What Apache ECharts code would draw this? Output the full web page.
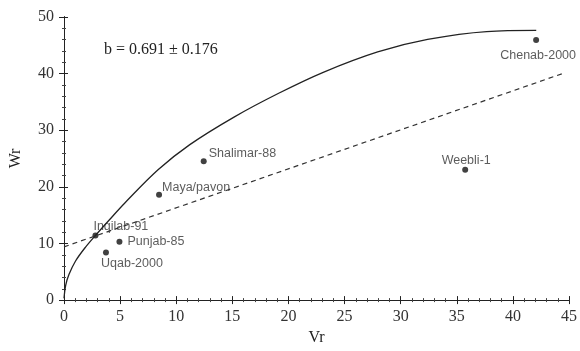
<!DOCTYPE html>
<html>
<head>
<meta charset="utf-8">
<script src="https://cdn.jsdelivr.net/npm/echarts@6/dist/echarts.min.js"></script>
<style>html,body{margin:0;padding:0;background:#fff}#c{width:580px;height:351px}</style>
</head>
<body>
<div id="c"></div>
<script>
// Cultivars (Vr, Wr)
var names = ['Inqilab-91','Uqab-2000','Punjab-85','Maya/pavon','Shalimar-88','Weebli-1','Chenab-2000'];
var vr = [2.8, 3.74, 4.94, 8.47, 12.45, 35.75, 42.07];
var wr = [11.4, 8.4, 10.3, 18.6, 24.5, 23.0, 45.9];
// Limiting parabola
var parabolaVr = [0, 0.15, 0.44, 1.03, 1.92, 2.8, 3.97, 5.4, 8.38, 11.18, 15.15, 19.13, 23.1, 27.95, 32.4, 37.66, 42.08];
var parabolaWr = [0.3, 2.6, 4.5, 6.9, 9.35, 11.4, 14.0, 17.1, 23.0, 27.4, 32.3, 36.5, 40.2, 43.8, 46.0, 47.4, 47.6];
// Regression line endpoints
var regVr = [0, 44.6];
var regWr = [9.4, 40.1];
var xTicks = [0,5,10,15,20,25,30,35,40,45];
var yTicks = [0,10,20,30,40,50];
var annotation = 'b = 0.691 \u00b1 0.176';

var labelCfg = {
  'Inqilab-91': {position:'right', offset:[-10,-9]},
  'Uqab-2000': {position:'bottom', offset:[26,-3]},
  'Punjab-85': {position:'right', offset:[0,0]},
  'Maya/pavon': {position:'right', offset:[-5,-7]},
  'Shalimar-88': {position:'right', offset:[-3,-8]},
  'Weebli-1': {position:'top', offset:[1,5]},
  'Chenab-2000': {position:'bottom', offset:[2,1]}
};
var pts = names.map(function(n,i){
  var c = labelCfg[n];
  return {value:[vr[i], wr[i]], name:n, label:{show:true, formatter:n, position:c.position, offset:c.offset, distance:5}};
});
function zip(a,b){return a.map(function(v,i){return [v,b[i]];});}

var serif = '"Liberation Serif", "Times New Roman", serif';
var sans = '"Liberation Sans", Arial, sans-serif';
var axisCommon = {
  axisLine:{show:true, onZero:false, lineStyle:{color:'#222', width:1}},
  splitLine:{show:false},
  minorTick:{show:true, splitNumber:5, length:2, lineStyle:{color:'#444'}},
};
var chart = echarts.init(document.getElementById('c'), null, {renderer:'canvas'});
chart.setOption({
  animation:false,
  backgroundColor:'#fff',
  grid:{left:63.3, right:7, top:16.8, bottom:42.7, containLabel:false},
  graphic:[{type:'text', left:104, top:42, style:{text:annotation, font:'16px ' + serif, fill:'#222'}}],
  xAxis:[
    Object.assign({type:'value', min:0, max:45, interval:5, position:'bottom',
      name:'Vr', nameLocation:'middle', nameGap:29,
      nameTextStyle:{fontFamily:serif, fontSize:16, color:'#222'},
      axisTick:{show:true, inside:false, length:4, lineStyle:{color:'#222'}},
      axisLabel:{fontFamily:serif, fontSize:16, color:'#333', margin:9,
        formatter:function(v){return xTicks.indexOf(v)>=0? String(v):'';}}}, axisCommon),
    Object.assign({type:'value', min:0, max:45, interval:5, position:'bottom', offset:0,
      axisTick:{show:true, inside:true, length:4, lineStyle:{color:'#222'}},
      axisLabel:{show:false}}, axisCommon)
  ],
  yAxis:[
    Object.assign({type:'value', min:0, max:50, interval:10, position:'left',
      name:'Wr', nameLocation:'middle', nameGap:40, nameRotate:90,
      nameTextStyle:{fontFamily:serif, fontSize:16, color:'#222'},
      axisTick:{show:true, inside:false, length:5, lineStyle:{color:'#222'}},
      axisLabel:{fontFamily:serif, fontSize:16, color:'#333', margin:10,
        formatter:function(v){return yTicks.indexOf(v)>=0? String(v):'';}}}, axisCommon),
    Object.assign({type:'value', min:0, max:50, interval:10, position:'left', offset:0,
      axisTick:{show:true, inside:true, length:4, lineStyle:{color:'#222'}},
      axisLabel:{show:false}}, axisCommon)
  ],
  series:[
    {type:'line', data:zip(parabolaVr, parabolaWr), smooth:0.35, symbol:'none',
      lineStyle:{color:'#222', width:1.3}, silent:true},
    {type:'line', data:zip(regVr, regWr), symbol:'none',
      lineStyle:{color:'#333', width:1.2, type:[5,4]}, silent:true},
    {type:'scatter', data:pts, symbol:'circle', symbolSize:6,
      itemStyle:{color:'#111'},
      label:{color:'#333', fontFamily:sans, fontSize:12.5}}
  ]
});
</script>
</body>
</html>
